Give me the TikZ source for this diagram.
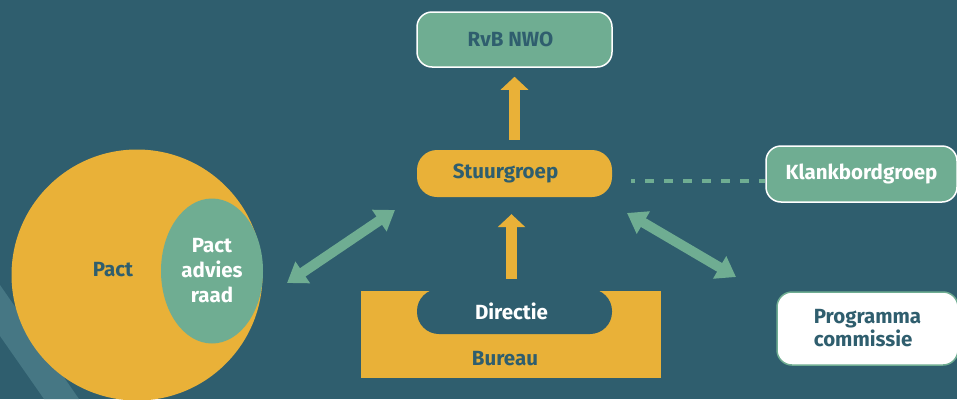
\documentclass[tikz,border=0pt]{standalone}
\usepackage{fontspec}
\setmainfont{Fira Sans}
\usetikzlibrary{arrows.meta,shapes.geometric,calc}
\definecolor{bg}{HTML}{2F5E6E}
\definecolor{geel}{HTML}{E9B138}
\definecolor{groen}{HTML}{6FAD92}
\definecolor{streep}{HTML}{467784}

\begin{document}
\begin{tikzpicture}[x=1pt,y=-1pt,
  every node/.style={font=\bfseries\fontsize{20.5}{23}\selectfont, inner sep=0pt},
  box/.style={rectangle, rounded corners=15pt, minimum width=195pt, minimum height=55pt},
  geelpijl/.style={line width=11pt, geel, -{Triangle[width=27pt,length=13pt]}},
  groenpijl/.style={line width=10pt, groen,
    {Triangle[width=25pt,length=19pt]}-{Triangle[width=25pt,length=19pt]}}]
\useasboundingbox (0,0) rectangle (957,399);
\fill[bg] (0,0) rectangle (957,399);
\fill[streep] (0,285) -- (79,399) -- (44,399) -- (0,336) -- cycle;
% Pact
\node[circle, fill=geel, minimum size=251pt] (pact) at (137,275) {};
\node[text=bg] (pacttxt) at (113,270) {Pact};
\node[ellipse, fill=groen, minimum width=102pt, minimum height=145pt] (par) at (212,271) {};
\node[text=white, align=center, font=\bfseries\fontsize{20.5}{25}\selectfont] at (par) {Pact\\advies\\raad};
% boxes
\node[box, fill=groen, draw=white, line width=1.5pt, text=bg] (rvb) at (514.5,39.5) {RvB NWO\hspace*{8pt}};
\node[box, fill=geel, rounded corners=20pt, minimum height=47pt, text=bg] (stuur) at (514.5,173.5) {Stuurgroep\hspace*{18pt}};
\node[box, fill=groen, draw=white, line width=1.5pt, minimum width=191pt, minimum height=56pt, text=white] (klank) at (861.5,174) {Klankbordgroep};
\node[box, fill=white, draw=groen, line width=1.5pt, minimum width=181pt, minimum height=73pt, text=bg, align=left,
  font=\bfseries\fontsize{20.5}{23}\selectfont] (prog) at (867.5,328.5) {Programma\\commissie};
\node[rectangle, fill=geel, minimum width=300pt, minimum height=87pt] (bureau) at (511,334.5) {};
\node[text=bg] (burtxt) at ($(bureau.south)+(-6,-20)$) {Bureau};
\node[box, fill=bg, rounded corners=22pt, minimum height=45pt, text=white] (dir) at (514.5,311.5) {Directie\hspace*{6pt}};
% pijlen
\draw[geelpijl, shorten <=10pt, shorten >=9pt] (stuur.north) -- (rvb.south);
\draw[geelpijl, shorten <=10pt, shorten >=17pt] ($(dir.north)+(-3,0)$) -- ($(stuur.south)+(-3,0)$);
\coordinate (la) at (287,283);
\coordinate (lb) at (395,210);
\coordinate (ra) at (627,213);
\coordinate (rb) at (736,277);
\draw[groenpijl] (la) -- (lb);
\draw[groenpijl] (ra) -- (rb);
\coordinate (kl) at ($(stuur.east)+(19,7.5)$);
\draw[groen, line width=4.5pt, dash pattern=on 9pt off 10pt, dash phase=5pt] (kl) -- (kl -| klank.west);
\end{tikzpicture}
\end{document}
